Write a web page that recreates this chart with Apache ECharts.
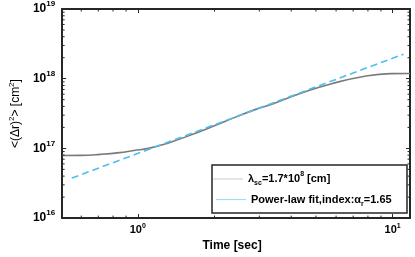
<!DOCTYPE html>
<html>
<head>
<meta charset="utf-8">
<script src="https://cdn.jsdelivr.net/npm/echarts@6/dist/echarts.min.js"></script>
<style>html,body{margin:0;padding:0;background:#fff;}#c{width:415px;height:257px;}</style>
</head>
<body>
<div id="c"></div>
<script>
// ---- data ----
const T_DATA = [0.505, 0.597, 0.711, 0.847, 0.966, 1.101, 1.312, 1.706, 2.03, 2.42, 2.885, 3.44, 4.34, 5.81, 7.78, 9.83, 11.7];
const MSD_DATA = [7.9e16, 7.94e16, 8.2e16, 8.7e16, 9.35e16, 1.0e17, 1.19e17, 1.68e17, 2.16e17, 2.81e17, 3.6e17, 4.45e17, 6.14e17, 8.55e17, 1.086e18, 1.183e18, 1.19e18];
const FIT_T = [0.551, 2.5, 11.04];
const FIT_MSD = [3.75e16, 2.96e17, 2.25e18];
const SERIES_NAMES = ['λsc=1.7*10^8 [cm]', 'Power-law fit,index:αr=1.65'];
const X_TICK_EXP = [0, 1];
const Y_TICK_EXP = [16, 17, 18, 19];
const X_MINOR = [0.6, 0.7, 0.8, 0.9, 2, 3, 4, 5, 6, 7, 8, 9];
const Y_MINOR = [2e16, 3e16, 4e16, 5e16, 6e16, 7e16, 8e16, 9e16, 2e17, 3e17, 4e17, 5e17, 6e17, 7e17, 8e17, 9e17, 2e18, 3e18, 4e18, 5e18, 6e18, 7e18, 8e18, 9e18];
const X_MIN = 0.505, X_MAX = 11.7, Y_MIN = 1e16, Y_MAX = 1e19;

const FONT = '"Liberation Sans", Arial, sans-serif';
const AXIS_COLOR = '#262626';

function expOf(v, list) {
  const e = Math.log10(v);
  const r = Math.round(e);
  if (Math.abs(e - r) > 1e-6 || list.indexOf(r) < 0) return null;
  return r;
}

const chart = echarts.init(document.getElementById('c'), null, {renderer: 'canvas'});

const axisLine = {show: true, lineStyle: {color: AXIS_COLOR, width: 2}};
const axisTick = {show: true, inside: true, length: 4, lineStyle: {color: AXIS_COLOR, width: 1}};

function minorTickSeries(values, isX) {
  return {
    type: 'custom',
    silent: true,
    clip: false,
    z: 5,
    xAxisIndex: 0, yAxisIndex: 0,
    data: values.map(v => isX ? [v, Y_MIN] : [X_MIN, v]),
    renderItem: function (params, api) {
      const st = {stroke: AXIS_COLOR, lineWidth: 1};
      if (isX) {
        const v = api.value(0);
        const b = api.coord([v, Y_MIN]);
        const t = api.coord([v, Y_MAX]);
        return {type: 'group', children: [
          {type: 'line', shape: {x1: b[0], y1: b[1], x2: b[0], y2: b[1] - 2.5}, style: st},
          {type: 'line', shape: {x1: t[0], y1: t[1], x2: t[0], y2: t[1] + 2.5}, style: st}
        ]};
      } else {
        const v = api.value(1);
        const l = api.coord([X_MIN, v]);
        const r = api.coord([X_MAX, v]);
        return {type: 'group', children: [
          {type: 'line', shape: {x1: l[0], y1: l[1], x2: l[0] + 2.5, y2: l[1]}, style: st},
          {type: 'line', shape: {x1: r[0], y1: r[1], x2: r[0] - 2.5, y2: r[1]}, style: st}
        ]};
      }
    }
  };
}

const legendRich = {
  b: {fontFamily: FONT, fontSize: 11, fontWeight: 'bold', color: '#000', lineHeight: 16},
  sub: {fontFamily: FONT, fontSize: 7, fontWeight: 'bold', color: '#000', lineHeight: 8, verticalAlign: 'bottom'},
  sup: {fontFamily: FONT, fontSize: 7, fontWeight: 'bold', color: '#000', lineHeight: 8, verticalAlign: 'top'}
};
function legendFormatter(name) {
  if (name === SERIES_NAMES[0]) return '{b|λ}{sub|sc}{b|=1.7*10}{sup|8}{b| [cm]}';
  return '{b|Power-law fit,index:α}{sub|r}{b|=1.65}';
}

const option = {
  animation: false,
  backgroundColor: '#fff',
  grid: {left: 51, right: 5, top: 9, bottom: 27.5, show: false},
  xAxis: [{
    type: 'log', logBase: 10, min: X_MIN, max: X_MAX, position: 'bottom',
    axisLine: axisLine, axisTick: axisTick, splitLine: {show: false},
    axisLabel: {
      margin: 4, showMinLabel: true, showMaxLabel: true,
      formatter: function (v) { const e = expOf(v, X_TICK_EXP); return e === null ? '' : '{b|10}{s|' + e + '}'; },
      rich: {
        b: {fontFamily: FONT, fontSize: 11, fontWeight: 'bold', color: '#000', lineHeight: 15},
        s: {fontFamily: FONT, fontSize: 7, fontWeight: 'bold', color: '#000', lineHeight: 8, verticalAlign: 'top'}
      }
    },
    name: 'Time [sec]', nameLocation: 'middle', nameGap: 13,
    nameTextStyle: {fontFamily: FONT, fontSize: 12, fontWeight: 'bold', color: '#000', padding: [0, 8, 0, 0]}
  }, {
    type: 'log', logBase: 10, min: X_MIN, max: X_MAX, position: 'top',
    axisLine: axisLine, axisTick: axisTick, splitLine: {show: false}, axisLabel: {show: false}
  }],
  yAxis: [{
    type: 'log', logBase: 10, min: Y_MIN, max: Y_MAX, position: 'left',
    axisLine: axisLine, axisTick: axisTick, splitLine: {show: false},
    axisLabel: {
      margin: 7,
      formatter: function (v) { const e = expOf(v, Y_TICK_EXP); return e === null ? '' : '{b|10}{s|' + e + '}'; },
      rich: {
        b: {fontFamily: FONT, fontSize: 12, fontWeight: 'bold', color: '#000', lineHeight: 18},
        s: {fontFamily: FONT, fontSize: 8, fontWeight: 'bold', color: '#000', lineHeight: 9, verticalAlign: 'top'}
      }
    },
    name: '{t|<(Δr)}{s|2}{t|> [cm}{s|2}{t|]}', nameLocation: 'middle', nameGap: 35,
    nameTextStyle: {
      rich: {
        t: {fontFamily: FONT, fontSize: 12, color: '#000', lineHeight: 16},
        s: {fontFamily: FONT, fontSize: 8, color: '#000', lineHeight: 8, verticalAlign: 'top'}
      }
    }
  }, {
    type: 'log', logBase: 10, min: Y_MIN, max: Y_MAX, position: 'right',
    axisLine: axisLine, axisTick: axisTick, splitLine: {show: false}, axisLabel: {show: false}
  }],
  graphic: [{
    type: 'rect', z: 10, silent: true,
    shape: {x: 212, y: 165, width: 195, height: 48},
    style: {fill: '#fff', stroke: AXIS_COLOR, lineWidth: 1.5}
  }],
  legend: [{
    z: 20, left: 213, top: 171, icon: 'rect', itemWidth: 30, itemHeight: 1.2, padding: 0,
    data: [{name: SERIES_NAMES[0], itemStyle: {color: '#d4d4d4'}}],
    formatter: legendFormatter, textStyle: {rich: legendRich}, selectedMode: false
  }, {
    z: 20, left: 216, top: 194, icon: 'rect', itemWidth: 30, itemHeight: 1.2, padding: 0,
    data: [{name: SERIES_NAMES[1], itemStyle: {color: '#a3dcf5'}}],
    formatter: legendFormatter, textStyle: {rich: legendRich}, selectedMode: false
  }],
  series: [{
    name: SERIES_NAMES[0], type: 'line', smooth: true, symbol: 'none', z: 3,
    data: T_DATA.map((t, i) => [t, MSD_DATA[i]]),
    lineStyle: {color: '#7a7a7a', width: 1.6}, itemStyle: {color: '#7a7a7a'}
  }, {
    name: SERIES_NAMES[1], type: 'line', symbol: 'none', z: 4,
    data: FIT_T.map((t, i) => [t, FIT_MSD[i]]),
    lineStyle: {color: '#4DBEEE', width: 1.6, type: [7, 4]}, itemStyle: {color: '#4DBEEE'}
  },
  minorTickSeries(X_MINOR, true),
  minorTickSeries(Y_MINOR, false)]
};
chart.setOption(option);
</script>
</body>
</html>
